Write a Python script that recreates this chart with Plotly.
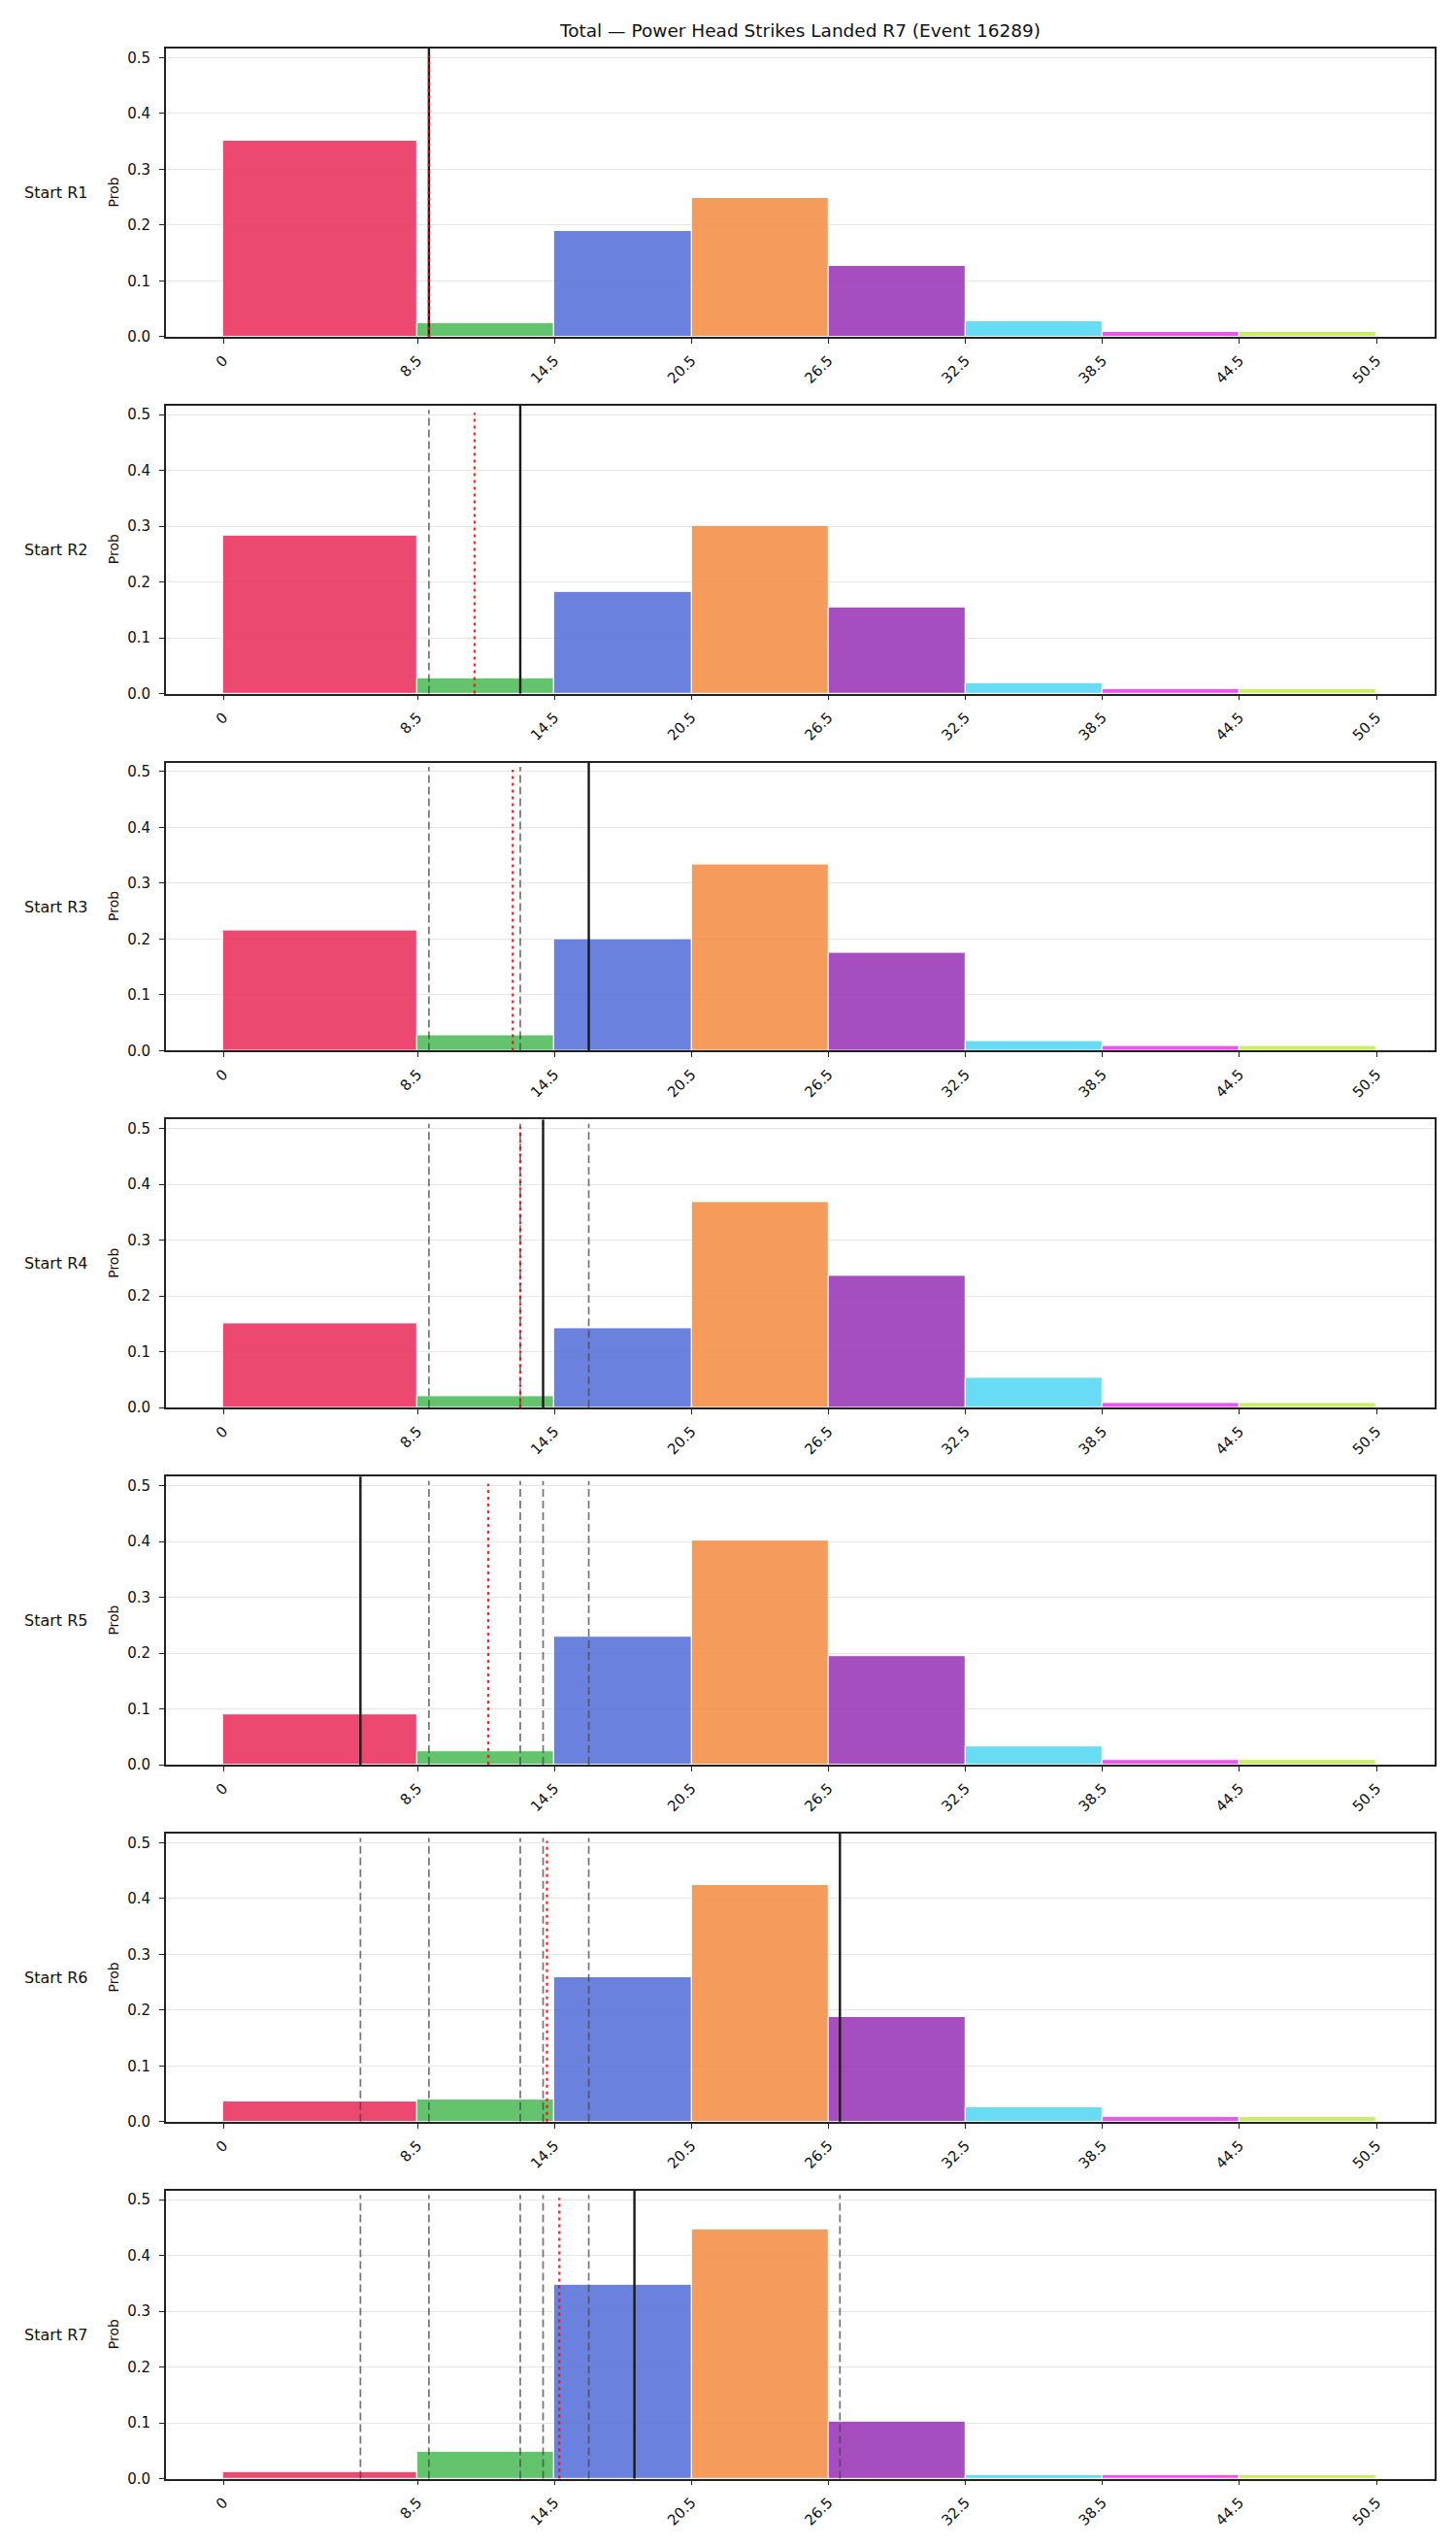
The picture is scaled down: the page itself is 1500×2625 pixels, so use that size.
import plotly.graph_objects as go

# ---------------- data ----------------
TITLE = "Total — Power Head Strikes Landed R7 (Event 16289)"
EDGES = [0, 8.5, 14.5, 20.5, 26.5, 32.5, 38.5, 44.5, 50.5]
TICK_LABELS = ["0", "8.5", "14.5", "20.5", "26.5", "32.5", "38.5", "44.5", "50.5"]
ROW_LABELS = ["Start R1", "Start R2", "Start R3", "Start R4", "Start R5", "Start R6", "Start R7"]

PROB_R1 = [0.351, 0.024, 0.190, 0.249, 0.127, 0.027, 0.008, 0.008]
PROB_R2 = [0.283, 0.027, 0.182, 0.300, 0.155, 0.019, 0.008, 0.008]
PROB_R3 = [0.215, 0.027, 0.199, 0.333, 0.176, 0.017, 0.009, 0.009]
PROB_R4 = [0.151, 0.020, 0.143, 0.368, 0.236, 0.053, 0.008, 0.008]
PROB_R5 = [0.090, 0.024, 0.229, 0.401, 0.194, 0.032, 0.008, 0.008]
PROB_R6 = [0.037, 0.040, 0.259, 0.424, 0.187, 0.025, 0.008, 0.008]
PROB_R7 = [0.012, 0.048, 0.347, 0.446, 0.102, 0.006, 0.006, 0.006]
PROBS = [PROB_R1, PROB_R2, PROB_R3, PROB_R4, PROB_R5, PROB_R6, PROB_R7]

ACTUAL = [9, 13, 16, 14, 6, 27, 18]                 # solid black line per row
RUNNING_MEAN = [9.0, 11.0, 12.67, 13.0, 11.6, 14.17, 14.71]  # red dotted line per row

BIN_COLORS = [
    "rgba(233,40,87,0.85)",
    "rgba(73,184,84,0.85)",
    "rgba(80,108,216,0.85)",
    "rgba(243,139,63,0.85)",
    "rgba(150,46,180,0.85)",
    "rgba(77,213,243,0.85)",
    "rgba(235,55,235,0.85)",
    "rgba(190,235,73,0.85)",
]

# ---------------- layout geometry ----------------
W, H = 1500, 2625
X_LEFT, X_RIGHT = 170.8, 1477.5
TOP0, STEP, AX_H = 50.0, 367.8, 296.8
YMAX = 0.5162
FONT = "DejaVu Sans"
SPINE = "#222222"

centers = [(EDGES[i] + EDGES[i + 1]) / 2 for i in range(len(EDGES) - 1)]
widths = [EDGES[i + 1] - EDGES[i] for i in range(len(EDGES) - 1)]

fig = go.Figure()
shapes = []
annotations = []
layout_axes = {}

for r, probs in enumerate(PROBS):
    n = r + 1
    xa = "x" if n == 1 else f"x{n}"
    ya = "y" if n == 1 else f"y{n}"
    top = TOP0 + r * STEP
    bot = top + AX_H
    dom_y = [1 - bot / H, 1 - top / H]

    fig.add_trace(go.Bar(
        x=centers, y=probs, width=widths,
        marker=dict(color=BIN_COLORS, line=dict(color="white", width=1)),
        xaxis=xa, yaxis=ya, showlegend=False, hoverinfo="skip",
    ))

    axis_common = dict(
        showline=True, linecolor=SPINE, linewidth=1.6, mirror=True,
        ticks="outside", ticklen=5, tickwidth=1.3, tickcolor=SPINE,
        tickfont=dict(family=FONT, size=15, color="#111"),
        zeroline=False, automargin=False,
    )
    layout_axes["xaxis" if n == 1 else f"xaxis{n}"] = dict(
        domain=[X_LEFT / W, X_RIGHT / W],
        range=[-2.525, 53.025],
        tickmode="array", tickvals=EDGES, ticktext=TICK_LABELS,
        tickangle=-45, showgrid=False,
        anchor=ya, ticklabelstandoff=3,
        **axis_common,
    )
    layout_axes["yaxis" if n == 1 else f"yaxis{n}"] = dict(
        domain=dom_y,
        range=[0, YMAX],
        tickmode="array", tickvals=[0, 0.1, 0.2, 0.3, 0.4, 0.5],
        ticktext=["0.0", "0.1", "0.2", "0.3", "0.4", "0.5"],
        showgrid=True, gridcolor="#e6e6e6", gridwidth=1,
        anchor=xa, ticklabelstandoff=6,
        **axis_common,
    )

    ydom = f"{ya} domain"
    # previous rounds' values (dashed gray)
    for v in ACTUAL[:r]:
        shapes.append(dict(type="line", xref=xa, yref=ydom, x0=v, x1=v, y0=0, y1=0.985,
                           line=dict(color="rgba(70,70,70,0.75)", width=1.7, dash="8px,4px")))
    # current value (solid black)
    shapes.append(dict(type="line", xref=xa, yref=ydom, x0=ACTUAL[r], x1=ACTUAL[r], y0=0, y1=1,
                       line=dict(color="#1a1a1a", width=2.4)))
    # running mean (red dotted)
    m = RUNNING_MEAN[r]
    shapes.append(dict(type="line", xref=xa, yref=ydom, x0=m, x1=m, y0=0, y1=0.975,
                       line=dict(color="rgba(255,0,0,0.85)", width=2.3, dash="3px,4px")))

    mid = 1 - (top + bot) / 2 / H
    annotations.append(dict(text=ROW_LABELS[r], xref="paper", yref="paper",
                            x=23 / W, y=mid, xanchor="left", yanchor="middle",
                            showarrow=False, font=dict(family=FONT, size=16, color="#111")))
    annotations.append(dict(text="Prob", xref="paper", yref="paper",
                            x=117 / W, y=mid, xanchor="center", yanchor="middle", textangle=-90,
                            showarrow=False, font=dict(family=FONT, size=14, color="#111")))

annotations.append(dict(text=TITLE, xref="paper", yref="paper",
                        x=(X_LEFT + X_RIGHT) / 2 / W, y=1 - 31 / H,
                        xanchor="center", yanchor="middle", showarrow=False,
                        font=dict(family=FONT, size=18.5, color="#111")))

fig.update_layout(
    width=W, height=H,
    margin=dict(l=0, r=0, t=0, b=0, autoexpand=False),
    paper_bgcolor="white", plot_bgcolor="white",
    barmode="overlay", bargap=0,
    shapes=shapes, annotations=annotations,
    font=dict(family=FONT),
    **layout_axes,
)

fig.write_html("out.html")
